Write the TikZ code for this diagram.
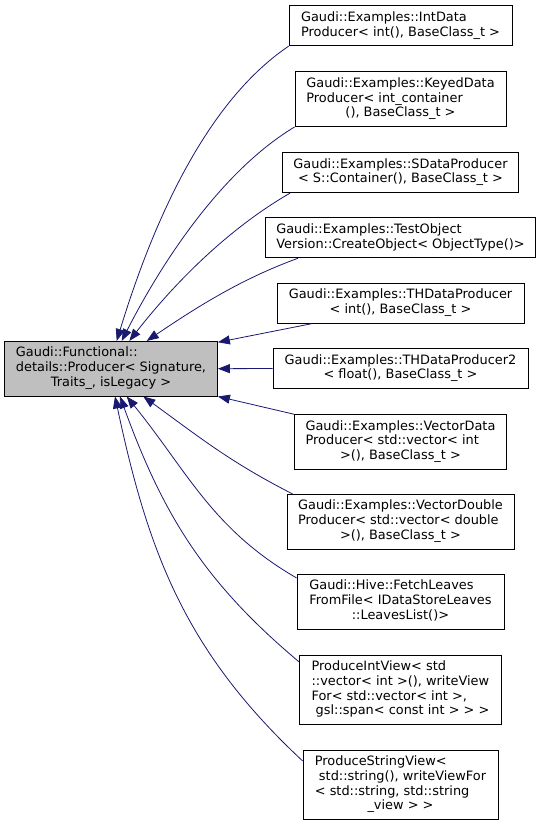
\documentclass[tikz,border=0pt]{standalone}
\usepackage{fontspec}
\setmainfont{DejaVu Sans}
\usetikzlibrary{arrows.meta}
\definecolor{midnightblue}{HTML}{191970}
\definecolor{grey75}{HTML}{BFBFBF}
% left lines, then a centred last line
\newcommand{\clslabel}[2]{\begin{tabular}{@{}l@{}}#1\\\multicolumn{1}{@{}c@{}}{#2}\end{tabular}}
\tikzset{
  cls/.style={draw=black,line width=0.8pt,fill=white,inner xsep=0pt,inner ysep=5.3pt,
    font=\fontsize{12.9}{14.7}\selectfont},
  edge/.style={midnightblue,line width=0.8pt,-{Triangle[length=12pt,width=9pt]}}
}
\begin{document}
\begin{tikzpicture}[x=1pt,y=1pt]
  \useasboundingbox (0,0) rectangle (541,-825);
  \node[cls,fill=grey75,minimum width=213pt] (base) at (111,-368.7)
    {\clslabel{Gaudi::Functional::\\details::Producer< Signature,}{Traits\_, isLegacy >}};
  % derived classes, one column
  \node[cls,minimum width=223pt] (intdata) at (400.5,-25.8)
    {\clslabel{Gaudi::Examples::IntData}{Producer< int(), BaseClass\_t >}};
  \node[cls,minimum width=211pt] (keyeddata) at (400.5,-99.2)
    {\clslabel{Gaudi::Examples::KeyedData\\Producer< int\_container}{(), BaseClass\_t >}};
  \node[cls,minimum width=236pt] (sdata) at (400.5,-172.7)
    {\clslabel{Gaudi::Examples::SDataProducer}{< S::Container(), BaseClass\_t >}};
  \node[cls,minimum width=270pt] (testobj) at (400.5,-237.8)
    {\clslabel{Gaudi::Examples::TestObject}{Version::CreateObject< ObjectType()>}};
  \node[cls,minimum width=247pt] (thdata) at (400.5,-303.3)
    {\clslabel{Gaudi::Examples::THDataProducer}{< int(), BaseClass\_t >}};
  \node[cls,minimum width=255pt] (thdatatwo) at (400.5,-368.5)
    {\clslabel{Gaudi::Examples::THDataProducer2}{< float(), BaseClass\_t >}};
  \node[cls,minimum width=212pt] (vecdata) at (400.5,-442)
    {\clslabel{Gaudi::Examples::VectorData\\Producer< std::vector< int}{>(), BaseClass\_t >}};
  \node[cls,minimum width=227pt] (vecdouble) at (400.5,-521.7)
    {\clslabel{Gaudi::Examples::VectorDouble\\Producer< std::vector< double}{>(), BaseClass\_t >}};
  \node[cls,minimum width=207pt] (fetch) at (400.5,-601.7)
    {\clslabel{Gaudi::Hive::FetchLeaves\\FromFile< IDataStoreLeaves}{::LeavesList()>}};
  \node[cls,minimum width=202pt] (intview) at (400.5,-690)
    {\clslabel{ProduceIntView< std\\::vector< int >(), writeView\\For< std::vector< int >,}{\ gsl::span< const int > > >}};
  \node[cls,minimum width=195pt] (strview) at (400.5,-785)
    {\clslabel{ProduceStringView<\\\ std::string(), writeViewFor\\< std::string, std::string}{\_view > >}};
  % inheritance arrows
  \draw[edge] (intdata.south west) to[out=214,in=73,looseness=.8] ([xshift=5.7pt]base.north);
  \draw[edge] (keyeddata.south west) to[out=211,in=63,looseness=.8] ([xshift=10.7pt]base.north);
  \draw[edge] ([xshift=8pt]sdata.south west) to[out=210,in=52,looseness=.85] ([xshift=18.3pt]base.north);
  \draw[edge] ([xshift=33pt]testobj.south west) to[out=200,in=34,looseness=.9] ([xshift=35.7pt]base.north);
  \draw[edge] ([xshift=35pt]thdata.south west) -- ([yshift=-1.3pt]base.north east);
  \draw[edge] (thdatatwo.west) -- (base.east);
  \draw[edge] (vecdata.north west) -- (base.south east);
  \draw[edge] ([xshift=6pt]vecdouble.north west) to[out=153,in=-36] ([xshift=32.3pt]base.south);
  \draw[edge] ([yshift=-4pt]fetch.north west) to[out=150,in=-51] ([xshift=15.7pt]base.south);
  \draw[edge] ([yshift=-7pt]intview.north west) to[out=140,in=-70] ([xshift=9pt]base.south);
  \draw[edge] ([yshift=-11pt]strview.north west) to[out=137,in=-78] ([xshift=4pt]base.south);
\end{tikzpicture}
\end{document}
